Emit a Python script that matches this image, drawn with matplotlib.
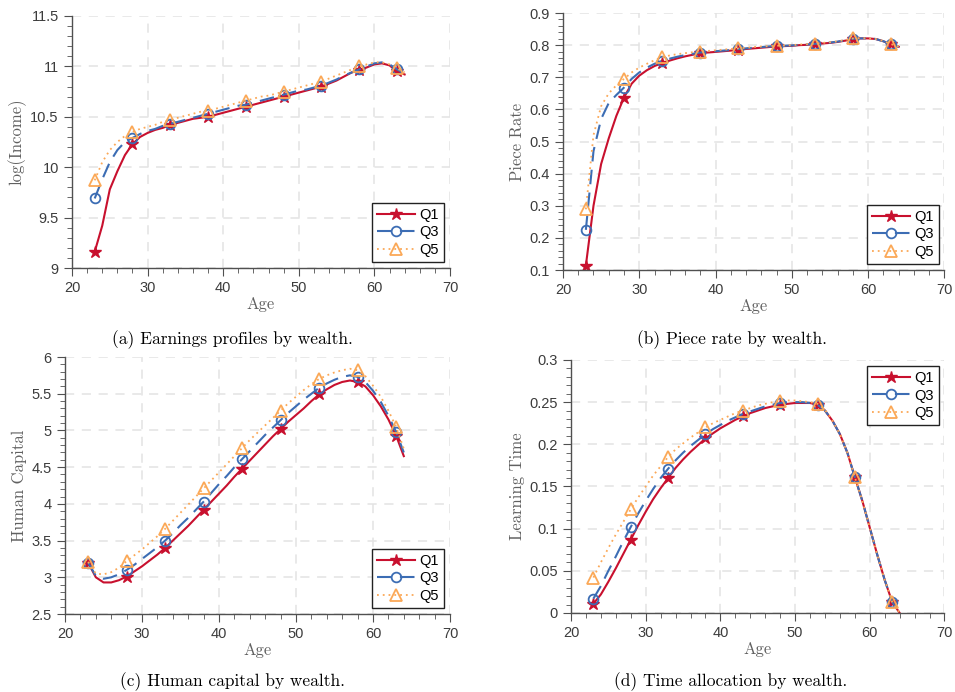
import matplotlib
matplotlib.use("Agg")
import matplotlib.pyplot as plt
from matplotlib.ticker import AutoMinorLocator, MultipleLocator, FuncFormatter

# ages simulated (one value per year), markers every 5 years
ages = list(range(23, 65))
marker_ages = [23, 28, 33, 38, 43, 48, 53, 58, 63]
groups = ["Q1", "Q3", "Q5"]

# (a) log(Income)
inc_q1 = [9.16, 9.42, 9.78, 9.96, 10.12, 10.23, 10.30, 10.34, 10.37, 10.39,
          10.42, 10.44, 10.46, 10.48, 10.49, 10.50, 10.52, 10.54, 10.56, 10.58,
          10.60, 10.62, 10.64, 10.66, 10.68, 10.70, 10.72, 10.74, 10.76, 10.78,
          10.80, 10.83, 10.86, 10.90, 10.94, 10.96, 10.99, 11.02, 11.03, 11.01,
          10.95, 10.92]
inc_q3 = [9.69, 9.88, 10.05, 10.17, 10.25, 10.29, 10.33, 10.36, 10.38, 10.41,
          10.43, 10.45, 10.47, 10.49, 10.51, 10.53, 10.55, 10.57, 10.59, 10.61,
          10.62, 10.64, 10.66, 10.68, 10.70, 10.72, 10.74, 10.76, 10.77, 10.79,
          10.81, 10.84, 10.87, 10.91, 10.94, 10.97, 11.00, 11.03, 11.04, 11.02,
          10.97, 10.93]
inc_q5 = [9.87, 10.05, 10.17, 10.25, 10.31, 10.35, 10.38, 10.40, 10.42, 10.45,
          10.47, 10.49, 10.51, 10.53, 10.55, 10.56, 10.58, 10.60, 10.62, 10.64,
          10.66, 10.68, 10.70, 10.71, 10.73, 10.75, 10.77, 10.79, 10.81, 10.83,
          10.85, 10.88, 10.91, 10.94, 10.97, 11.00, 11.02, 11.04, 11.04, 11.02,
          10.98, 10.94]

# (b) piece rate
pr_q1 = [0.114, 0.30, 0.43, 0.51, 0.58, 0.637, 0.680, 0.705, 0.722, 0.735,
         0.744, 0.752, 0.759, 0.765, 0.770, 0.775, 0.777, 0.779, 0.781, 0.783,
         0.786, 0.788, 0.790, 0.792, 0.794, 0.796, 0.797, 0.798, 0.800, 0.801,
         0.803, 0.805, 0.807, 0.810, 0.814, 0.819, 0.821, 0.821, 0.819, 0.812,
         0.802, 0.795]
pr_q3 = [0.225, 0.47, 0.57, 0.62, 0.645, 0.668, 0.695, 0.715, 0.730, 0.742,
         0.751, 0.758, 0.764, 0.769, 0.773, 0.777, 0.779, 0.781, 0.783, 0.785,
         0.788, 0.790, 0.792, 0.794, 0.796, 0.797, 0.798, 0.799, 0.801, 0.802,
         0.804, 0.806, 0.808, 0.811, 0.815, 0.820, 0.821, 0.821, 0.819, 0.812,
         0.802, 0.795]
pr_q5 = [0.289, 0.52, 0.61, 0.65, 0.675, 0.695, 0.715, 0.730, 0.742, 0.753,
         0.762, 0.768, 0.772, 0.775, 0.778, 0.780, 0.782, 0.784, 0.786, 0.788,
         0.790, 0.792, 0.794, 0.796, 0.797, 0.798, 0.799, 0.800, 0.802, 0.803,
         0.805, 0.807, 0.809, 0.812, 0.816, 0.821, 0.822, 0.821, 0.819, 0.813,
         0.803, 0.796]

# (c) human capital
hc_q1 = [3.20, 3.00, 2.93, 2.93, 2.96, 3.01, 3.08, 3.15, 3.23, 3.31,
         3.40, 3.50, 3.60, 3.70, 3.81, 3.92, 4.03, 4.14, 4.25, 4.37,
         4.48, 4.59, 4.70, 4.81, 4.92, 5.02, 5.12, 5.21, 5.30, 5.40,
         5.49, 5.56, 5.62, 5.66, 5.68, 5.66, 5.60, 5.48, 5.33, 5.15,
         4.93, 4.65]
hc_q3 = [3.20, 3.02, 2.98, 3.00, 3.04, 3.10, 3.17, 3.25, 3.33, 3.41,
         3.50, 3.60, 3.71, 3.81, 3.92, 4.03, 4.15, 4.27, 4.38, 4.50,
         4.61, 4.72, 4.83, 4.94, 5.04, 5.14, 5.24, 5.33, 5.42, 5.50,
         5.58, 5.64, 5.69, 5.73, 5.75, 5.73, 5.66, 5.54, 5.39, 5.20,
         4.98, 4.70]
hc_q5 = [3.21, 3.05, 3.04, 3.07, 3.13, 3.22, 3.30, 3.38, 3.47, 3.56,
         3.66, 3.77, 3.88, 3.99, 4.10, 4.21, 4.32, 4.43, 4.54, 4.65,
         4.76, 4.87, 4.97, 5.07, 5.17, 5.27, 5.37, 5.46, 5.55, 5.63,
         5.70, 5.75, 5.79, 5.82, 5.84, 5.82, 5.74, 5.61, 5.46, 5.27,
         5.05, 4.75]

# (d) learning time
lt_q1 = [0.011, 0.022, 0.037, 0.053, 0.070, 0.087, 0.104, 0.120, 0.135, 0.148,
         0.160, 0.172, 0.182, 0.191, 0.199, 0.207, 0.213, 0.219, 0.224, 0.229,
         0.233, 0.237, 0.240, 0.243, 0.245, 0.247, 0.248, 0.249, 0.249, 0.249,
         0.247, 0.240, 0.228, 0.212, 0.190, 0.161, 0.133, 0.101, 0.069, 0.039,
         0.013, 0.0]
lt_q3 = [0.017, 0.032, 0.050, 0.067, 0.085, 0.102, 0.118, 0.133, 0.147, 0.160,
         0.171, 0.181, 0.190, 0.198, 0.205, 0.212, 0.218, 0.223, 0.228, 0.232,
         0.236, 0.239, 0.242, 0.245, 0.247, 0.249, 0.250, 0.250, 0.250, 0.249,
         0.247, 0.240, 0.228, 0.212, 0.190, 0.161, 0.133, 0.101, 0.069, 0.039,
         0.013, 0.0]
lt_q5 = [0.042, 0.060, 0.077, 0.093, 0.108, 0.123, 0.137, 0.150, 0.163, 0.174,
         0.185, 0.194, 0.201, 0.208, 0.214, 0.220, 0.225, 0.229, 0.233, 0.237,
         0.240, 0.243, 0.246, 0.248, 0.250, 0.251, 0.252, 0.252, 0.251, 0.250,
         0.248, 0.241, 0.228, 0.212, 0.190, 0.161, 0.133, 0.101, 0.069, 0.039,
         0.013, 0.0]

red = "#c8102e"
blue = "#3c6db4"
orange = "#fba857"
grey = "#505050"

styles = [
    dict(color=red, ls="-", lw=1.5, marker="*", ms=9, mfc=red, mec=red),
    dict(color=blue, ls=(0, (7, 4)), lw=1.5, marker="o", ms=7, mfc="none", mec=blue, mew=1.3),
    dict(color=orange, ls=(0, (1, 2.2)), lw=1.3, marker="^", ms=8, mfc="none", mec=orange, mew=1.3),
]

panels = [
    # rect, series, ylim, ymajor, ylabel, caption, caption pos, legend loc
    ([0.0754, 0.6127, 0.3958, 0.3642], [inc_q1, inc_q3, inc_q5], (9, 11.5), 0.5,
     "log(Income)", "(a) Earnings profiles by wealth.", (232, 340), "lower right"),
    ([0.5895, 0.6098, 0.3995, 0.3714], [pr_q1, pr_q3, pr_q5], (0.1, 0.9), 0.1,
     "Piece Rate", "(b) Piece rate by wealth.", (732, 340), "lower right"),
    ([0.0681, 0.1127, 0.4031, 0.3714], [hc_q1, hc_q3, hc_q5], (2.5, 6), 0.5,
     "Human Capital", "(c) Human capital by wealth.", (232, 682), "lower right"),
    ([0.5979, 0.1142, 0.3911, 0.3656], [lt_q1, lt_q3, lt_q5], (0, 0.3), 0.05,
     "Learning Time", "(d) Time allocation by wealth.", (731, 682), "upper right"),
]

fig = plt.figure(figsize=(9.55, 6.92), dpi=100)
serif = "cmr10"
short = FuncFormatter(lambda v, p: f"{round(v, 6):g}")

for rect, series, ylim, ymaj, ylabel, caption, cpos, loc in panels:
    ax = fig.add_axes(rect)
    for vals, name, st in zip(series, groups, styles):
        idx = [ages.index(a) for a in marker_ages]
        ax.plot(ages, vals, label=name, markevery=idx, **st)
    ax.set_xlim(20, 70)
    ax.set_ylim(*ylim)
    ax.xaxis.set_major_locator(MultipleLocator(10))
    ax.yaxis.set_major_locator(MultipleLocator(ymaj))
    ax.yaxis.set_major_formatter(short)
    ax.xaxis.set_minor_locator(AutoMinorLocator(5))
    ax.yaxis.set_minor_locator(AutoMinorLocator(5))
    ax.grid(True, which="major", color="#e3e3e3", ls=(0, (6, 5)), lw=1.1)
    ax.set_axisbelow(True)
    for s in ["top", "right"]:
        ax.spines[s].set_visible(False)
    for s in ["left", "bottom"]:
        ax.spines[s].set_color(grey)
        ax.spines[s].set_linewidth(1.0)
    ax.tick_params(which="both", direction="out", color=grey, labelcolor="#3c3c3c",
                   labelsize=10.5)
    ax.tick_params(which="major", length=6)
    ax.tick_params(which="minor", length=3.5)
    for lab in ax.get_xticklabels() + ax.get_yticklabels():
        lab.set_family("Liberation Sans")
    ax.set_xlabel("Age", family=serif, fontsize=12, color="#606060", labelpad=1)
    ax.set_ylabel(ylabel, family=serif, fontsize=12, color="#606060", labelpad=3)
    leg = ax.legend(loc=loc, handlelength=2.6, borderaxespad=0.4,
                    fancybox=False, framealpha=1, edgecolor="#222222",
                    prop={"family": "Liberation Sans", "size": 10.5},
                    labelspacing=0.25, borderpad=0.35, handletextpad=0.3)
    leg.get_frame().set_linewidth(1.0)
    fig.text(cpos[0] / 955, 1 - cpos[1] / 692, caption, family=serif, fontsize=12.5,
             ha="center", va="center")

fig.savefig("out.png", dpi=100)
